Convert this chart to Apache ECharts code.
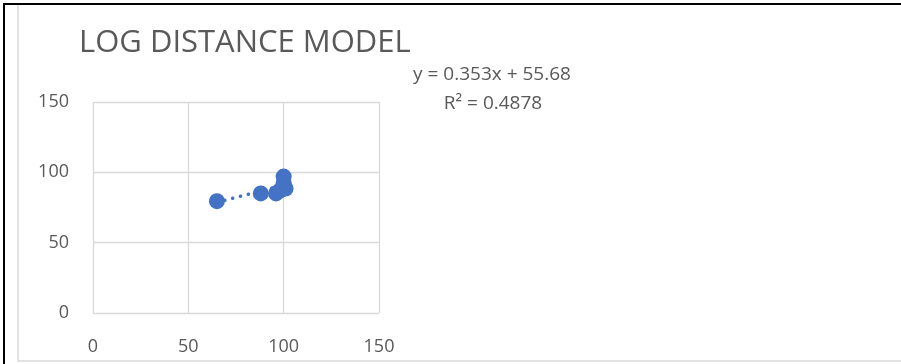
<!DOCTYPE html>
<html>
<head>
<meta charset="utf-8">
<script src="https://cdn.jsdelivr.net/npm/echarts@6/dist/echarts.min.js"></script>
<style>
  html, body { margin: 0; padding: 0; background: #fff; }
  #chart { width: 901px; height: 364px; }
</style>
</head>
<body>
<div id="chart"></div>
<script>
// measured path loss points (distance, dB)
const xValues = [65, 88, 96, 98, 100, 101, 100];
const yValues = [79.5, 85, 85, 87, 97, 88.5, 92];
const xTicks = [0, 50, 100, 150];
const yTicks = [0, 50, 100, 150];
// excel linear trendline
const slope = 0.353;
const intercept = 55.68;
const equationText = 'y = 0.353x + 55.68';
const r2Text = 'R² = 0.4878';

const points = xValues.map((x, i) => [x, yValues[i]]);
const xMin = Math.min(...xValues);
const xMax = Math.max(...xValues);

const chart = echarts.init(document.getElementById('chart'));
const grey = '#595959';
const font = 'Open Sans';

chart.setOption({
  backgroundColor: '#fff',
  animation: false,
  title: {
    text: 'LOG DISTANCE MODEL',
    left: 74,
    top: 23,
    textStyle: { fontFamily: font, fontSize: 31, fontWeight: 'normal', color: grey },
  },
  graphic: [
    { type: 'rect', shape: { x: 18, y: 4, width: 900, height: 357 }, style: { fill: 'none', stroke: '#d9d9d9', lineWidth: 1.5 } },
    { type: 'rect', shape: { x: 3, y: 3, width: 898, height: 2 }, style: { fill: '#000' } },
    { type: 'rect', shape: { x: 3, y: 3, width: 2, height: 361 }, style: { fill: '#000' } },
    { type: 'text', x: 492, y: 75, style: { text: equationText, fill: grey, font: '19px "' + font + '"', align: 'center', verticalAlign: 'middle' } },
    { type: 'text', x: 493, y: 104, style: { text: r2Text, fill: grey, font: '19px "' + font + '"', align: 'center', verticalAlign: 'middle' } },
  ],
  grid: { left: 93, right: 522, top: 102, bottom: 51 },
  xAxis: {
    type: 'value', min: xTicks[0], max: xTicks[xTicks.length - 1], interval: 50,
    axisLine: { show: false }, axisTick: { show: false },
    axisLabel: { color: grey, fontFamily: font, fontSize: 18, margin: 25 },
    splitLine: { show: true, lineStyle: { color: '#d9d9d9', width: 1.3 } },
  },
  yAxis: {
    type: 'value', min: yTicks[0], max: yTicks[yTicks.length - 1], interval: 50,
    axisLine: { show: false }, axisTick: { show: false },
    axisLabel: { color: grey, fontFamily: font, fontSize: 18, margin: 24 },
    splitLine: { show: true, lineStyle: { color: '#d9d9d9', width: 1.3 } },
  },
  series: [{
    type: 'scatter',
    data: points,
    symbolSize: 16,
    itemStyle: { color: '#4472C4', opacity: 1 },
    markLine: {
      silent: true,
      symbol: 'none',
      label: { show: false },
      lineStyle: { color: '#4472C4', width: 3.5, type: [0.1, 8], cap: 'round' },
      data: [[
        { coord: [xMin, slope * xMin + intercept] },
        { coord: [xMax, slope * xMax + intercept] },
      ]],
    },
  }],
});
</script>
</body>
</html>
